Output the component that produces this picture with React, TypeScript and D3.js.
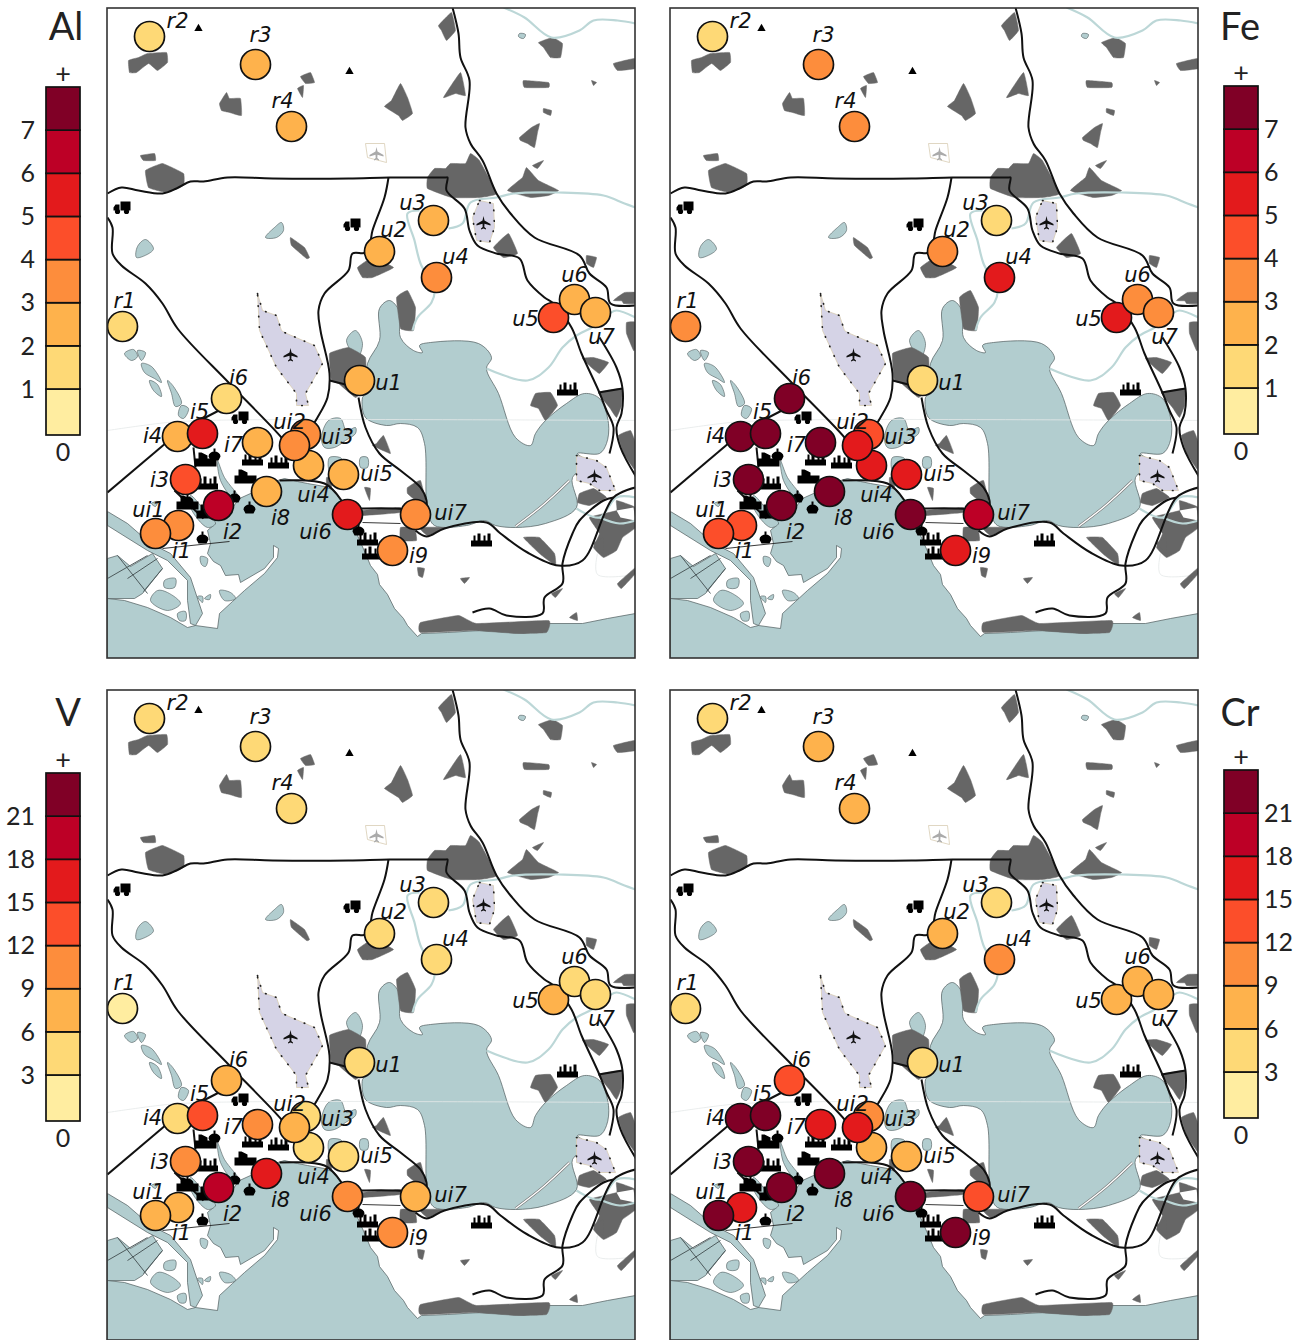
import React from "react";
import * as d3 from "d3";

type Pt = [number, number];

// sampling sites, map coordinates (km-ish units, origin top left of the map sheet)
const siteNames = ["r1","r2","r3","r4","u1","u2","u3","u4","u5","u6","u7","i1","i2","i3","i4","i5","i6","i7","i8","i9","ui1","ui3","ui4","ui2","ui5","ui6","ui7"];
const siteX = [15,42,148,184,252,272,326,329,446,467,488,71,111,78,70,95,119,150,159,285,48,198,201,187,236,240,308];
const siteY = [318,28,56,118,372,243,212,269,309,291,304,517,497,471,428,425,390,434,483,542,525,426,457,437,466,506,506];

const alValues = [1.6,1.5,2.5,2.4,2.5,2.6,2.4,3.4,4.5,2.5,2.6,3.3,6.5,4.4,2.6,5.4,1.5,2.6,2.5,3.2,3.4,3.3,2.7,3.4,2.6,5.5,3.3];
const feValues = [3.3,1.6,3.2,3.4,1.5,3.3,1.6,5.4,5.6,3.3,3.2,4.4,7.6,7.5,7.8,7.4,7.9,7.7,7.3,5.5,4.5,4.3,5.2,5.3,5.4,7.2,6.4];
const vValues = [2.1,4.5,4.2,4.4,4.6,4.3,4.7,4.4,7.5,4.5,4.6,7.2,19.5,10.4,4.8,13.6,7.4,10.2,16.5,10.6,7.5,4.4,4.6,7.8,4.2,10.5,7.3];
const crValues = [4.5,4.2,7.4,7.6,4.4,7.5,4.3,10.6,7.2,7.4,7.7,16.2,23,24,25,26,13.5,16.4,22.5,22,22.8,10.2,7.8,16.5,7.5,23.5,13.4];

const colorClasses = ["#ffeda0","#fed976","#feb24c","#fd8d3c","#fc4e2a","#e31a1c","#bd0026","#800026"];
const alTicks = [1,2,3,4,5,6,7];
const feTicks = [1,2,3,4,5,6,7];
const vTicks = [3,6,9,12,15,18,21];
const crTicks = [3,6,9,12,15,18,21];

// base map
const ocean: Pt[] = [[0,650],[0,590],[17,592],[40,599],[63,609],[80,619],[88,617],[110,620],[112,605],[125,593],[137,582],[157,565],[170,549],[171,540],[166,537],[166,549],[157,560],[133,574],[131,566],[118,567],[113,557],[106,553],[100,545],[103,535],[100,522],[108,515],[98,510],[110,503],[125,499],[132,490],[143,485],[150,478],[177,470],[190,473],[200,475],[217,478],[227,482],[233,492],[240,507],[250,527],[258,545],[263,557],[270,566],[272,576],[280,586],[287,600],[296,610],[300,617],[310,628],[314,625],[340,624],[372,622],[417,625],[441,615],[475,615],[500,610],[528,605],[528,650]];
const lagoon: Pt[] = [[258,409],[255,389],[258,385],[260,355],[272,332],[272,300],[282,292],[292,303],[293,329],[306,342],[315,344],[312,337],[323,334],[371,335],[384,349],[379,360],[391,385],[408,429],[423,437],[428,425],[438,412],[459,395],[477,385],[492,390],[501,415],[499,435],[492,445],[470,445],[482,455],[465,469],[469,499],[438,515],[408,519],[388,517],[377,512],[359,517],[327,517],[320,502],[317,435],[310,419],[293,415],[279,417]];
const estuary: Pt[] = [[0,503],[20,515],[43,535],[63,545],[83,569],[95,605],[88,617],[83,615],[80,592],[80,572],[60,552],[40,542],[0,517]];
const saltPans: Pt[] = [[0,550],[10,547],[23,558],[45,545],[55,560],[35,585],[27,590],[0,590]];
const ponds: Pt[][] = [
  [[158,229],[167,219],[174,214],[176,222],[169,229]],
  [[29,249],[30,238],[38,231],[46,240],[43,244]],
  [[214,429],[221,412],[233,410],[239,422],[248,419],[248,425],[238,432],[227,439],[217,439]],
  [[239,332],[248,322],[255,335],[250,349]],
  [[253,449],[260,449],[260,459],[253,459]],
  [[222,449],[234,450],[222,462]],
  [[17,345],[26,341],[30,348],[24,352]],
  [[30,342],[38,344],[34,352]],
  [[34,355],[44,358],[54,374],[47,370],[37,364]],
  [[42,372],[50,376],[54,388],[46,382]],
  [[60,372],[66,378],[74,395],[68,398],[64,385]],
  [[74,397],[81,400],[76,410],[71,407]],
  [[110,452],[117,469],[132,490],[125,489],[113,472]],
  [[83,487],[97,502],[108,515],[100,519],[83,499]],
  [[112,582],[123,584],[128,590],[117,592]],
  [[50,582],[60,584],[73,595],[60,602],[43,592]],
  [[57,572],[68,570],[67,579],[57,579]],
  [[93,548],[100,550],[98,558],[94,556]],
  [[70,605],[78,603],[78,612],[72,612]],
  [[90,588],[95,588],[95,594]],
  [[97,590],[103,586],[102,591]],
  [[412,25],[418,26],[416,30],[411,28]],
  [[44,495],[50,493],[48,498]],
];
const cities: Pt[][] = [
  [[21,52],[31,49],[40,45],[59,44],[60,54],[50,62],[41,55],[29,64],[22,64]],
  [[112,95],[119,84],[122,90],[133,90],[134,107],[122,104],[114,102]],
  [[193,68],[203,64],[207,74],[198,75]],
  [[190,80],[196,77],[195,89]],
  [[293,75],[300,89],[305,105],[295,112],[291,107],[277,98],[284,92]],
  [[331,17],[344,4],[348,22],[339,32],[334,22]],
  [[336,89],[353,64],[358,87],[348,85]],
  [[320,169],[327,160],[338,160],[343,155],[358,155],[363,145],[372,152],[389,185],[372,189],[344,189],[320,180]],
  [[400,182],[415,169],[419,159],[431,172],[451,182],[441,187],[423,189]],
  [[425,157],[436,152],[430,160]],
  [[431,34],[445,29],[455,35],[453,49],[443,49],[436,39]],
  [[506,55],[527,50],[528,60],[510,62]],
  [[416,72],[441,74],[441,79],[417,79]],
  [[484,72],[489,74],[486,77]],
  [[436,100],[444,102],[443,107],[436,104]],
  [[412,129],[424,119],[432,115],[430,124],[427,139],[420,135],[413,132]],
  [[38,162],[55,155],[76,165],[76,177],[59,184],[41,179]],
  [[33,147],[47,145],[48,152],[36,152]],
  [[183,229],[197,239],[202,249],[199,250],[184,237]],
  [[250,259],[265,249],[286,259],[265,269],[255,269]],
  [[386,239],[401,225],[410,245],[396,249]],
  [[479,247],[489,249],[486,259],[479,255]],
  [[506,292],[517,284],[528,284],[528,292]],
  [[289,289],[300,282],[308,299],[306,322],[293,320]],
  [[222,345],[241,339],[258,349],[258,379],[248,389],[231,375],[224,372]],
  [[269,435],[276,427],[283,445],[265,437]],
  [[300,479],[313,472],[320,502],[308,492],[300,485]],
  [[293,519],[307,519],[309,532],[293,532]],
  [[312,519],[338,519],[320,527]],
  [[423,397],[428,385],[443,384],[450,397],[438,412],[431,400]],
  [[475,350],[486,349],[501,354],[492,365],[484,359]],
  [[491,384],[514,380],[514,397],[509,409],[502,399]],
  [[511,427],[523,422],[528,435],[528,462],[516,445]],
  [[513,287],[526,284],[528,285],[528,295],[516,295]],
  [[519,314],[528,314],[528,340],[526,342],[519,325]],
  [[472,485],[486,480],[499,489],[482,497],[470,494]],
  [[482,509],[509,502],[509,492],[528,499],[528,519],[515,529],[509,542],[496,549],[486,539],[492,525]],
  [[416,529],[432,529],[447,545],[448,557],[432,545]],
  [[313,614],[351,607],[369,615],[441,612],[439,624],[410,625],[365,622],[313,624]],
  [[310,559],[317,560],[315,569],[311,567]],
  [[353,570],[362,569],[357,575]],
  [[444,585],[455,580],[448,589]],
  [[462,609],[469,604],[470,612]],
  [[510,575],[528,559],[528,565],[514,580]],
  [[486,535],[496,529],[496,545]],
  [[219,469],[224,469],[224,479],[219,477]],
  [[257,479],[263,480],[262,492]],
  [[255,502],[293,499],[293,504],[255,507]],
];
const cityHoles: Pt[][] = [[[509,502],[526,499],[528,512],[513,509]]];
const rivers: Pt[][] = [
  [[396,-1],[417,9],[444,29],[472,22],[486,12],[510,12],[528,15]],
  [[341,220],[355,215],[363,194],[389,189],[406,185],[451,184],[496,187],[517,195],[528,199]],
  [[312,202],[300,205],[307,232],[313,255],[327,282],[324,294],[310,309],[305,322]],
  [[379,360],[420,372],[441,359],[455,339],[469,327],[486,318],[502,305],[509,302],[528,309]],
  [[469,500],[492,509],[509,489],[528,489]],
  [[492,509],[512,515],[528,512]],
];
const roads: Pt[][] = [
  [[0,185],[14,179],[31,182],[55,185],[69,180],[83,173],[96,173],[120,169],[165,170],[241,170],[282,169],[338,169],[340,169],[339,182],[357,200],[362,222],[370,237],[389,245],[412,250],[420,272],[437,289],[446,295],[464,319],[474,345],[491,382],[499,402],[506,419],[502,445]],
  [[345,-1],[351,25],[353,49],[362,72],[358,119],[363,135],[375,152],[389,185],[403,205],[427,229],[472,247],[482,265],[499,279],[503,295],[528,297]],
  [[281,169],[277,189],[265,222],[263,232],[258,244],[245,245],[241,262],[217,285],[211,302],[213,322],[222,365],[220,389],[210,409],[205,417]],
  [[0,209],[5,219],[5,245],[14,257],[38,275],[55,295],[70,320],[122,375],[174,429],[182,440]],
  [[59,434],[0,484]],
  [[96,410],[121,397]],
  [[86,439],[88,459]],
  [[67,482],[96,510]],
  [[172,472],[217,475],[234,492],[240,505]],
  [[251,500],[288,500],[308,502]],
  [[222,372],[250,379]],
  [[251,389],[258,419],[272,445],[293,462],[313,479],[319,492],[318,510]],
  [[308,522],[319,528],[337,520],[379,514],[393,525],[420,544],[451,557],[475,552],[506,489],[528,479]],
  [[492,329],[509,359],[515,380],[514,405],[509,419],[513,439],[529,469]],
  [[491,384],[515,380]],
  [[506,489],[496,492],[472,512],[465,525],[455,555],[455,575],[437,589],[435,605],[399,607],[382,600],[365,604]],
];
const thinRoads: Pt[][] = [
  [[55,540],[122,533]],
  [[255,514],[293,515]],
];
const saltLines: Pt[][] = [
  [[0,570],[40,547]],
  [[10,547],[40,585]],
  [[20,570],[50,550]],
  [[36,583],[55,560]],
];
const faintLines: Pt[][] = [
  [[0,422],[60,414],[100,412],[190,411],[540,412]],
  [[490,545],[490,566],[528,566]],
];
const mainAirport: Pt[] = [[150,285],[155,302],[169,307],[174,322],[177,324],[207,337],[215,355],[198,385],[201,397],[189,397],[189,385],[169,359],[152,322]];
const northAirport: Pt[] = [[372,192],[386,195],[387,219],[382,234],[369,232],[365,209]];
const lagoonAirport: Pt[] = [[469,447],[489,452],[499,459],[508,482],[492,482],[482,475],[469,472]];
const closedAirport: Pt[] = [[258,135],[277,135],[279,154],[260,149]];
const causeway: Pt[] = [[408,518],[435,497],[462,472]];
const trucks: Pt[] = [[15,199],[245,216],[133,409]];
const factories: Pt[] = [[460,380],[374,531],[171,453],[260,530],[265,544],[100,474],[145,450]];
const plants: Pt[] = [[98,452],[138,469],[80,495],[100,504]];
const tanks: Pt[] = [[107,447],[127,489],[142,500],[95,530],[251,522],[80,492]];
const summits: Pt[] = [[91,20],[242,63]];
const activePlanes: Pt[] = [[183,346],[376,214],[487,467]];
const greyPlanes: Pt[] = [[269,145]];

// label placement relative to each site, same order as siteNames
const labelDx = [2,28,5,-9,29,14,-21,19,-28,0,6,3,14,-26,-25,-3,12,-24,14,26,-7,32,5,-5,33,-32,35];
const labelDy = [-26,-16,-30,-26,2,-22,-18,-21,1,-25,24,25,26,0,-1,-22,-21,2,26,5,-24,2,29,-24,-1,17,-2];

const PANEL_W = 528;
const PANEL_H = 650;
const xMap = d3.scaleLinear().domain([-0.5, 527.5]).range([0, PANEL_W]);
const yMap = d3.scaleLinear().domain([-0.5, 649.5]).range([0, PANEL_H]);

const area = d3.line<Pt>().x((d) => xMap(d[0])).y((d) => yMap(d[1])).curve(d3.curveLinearClosed);
const softArea = d3.line<Pt>().x((d) => xMap(d[0])).y((d) => yMap(d[1])).curve(d3.curveCatmullRomClosed.alpha(0.5));
const cityArea = d3.line<Pt>().x((d) => xMap(d[0])).y((d) => yMap(d[1])).curve(d3.curveCardinalClosed.tension(0.7));
const track = d3.line<Pt>().x((d) => xMap(d[0])).y((d) => yMap(d[1])).curve(d3.curveCatmullRom.alpha(0.5));

const WATER = "#b2cdcf";
const CITY = "#666666";
const AIRPORT = "#d5d3e6";
const RIVER = "#bcd7d7";

const PLANE = "M0,-6.5 L1,-2 L7,1.5 L7,3 L1,1.2 L0.8,4.5 L2.5,6 L2.5,7 L0,6 L-2.5,7 L-2.5,6 L-0.8,4.5 L-1,1.2 L-7,3 L-7,1.5 L-1,-2 Z";
const TRUCK = "M-9,0 L-7,-3 H-3 V3 H-9 Z M-2,-6 H8 V3 H-2 Z";
const FACTORY = "M-10.5,1 V7 H10.5 V1 H9 V-6 H6 V1 H4 V-4 H2 V1 H-1 V-6 H-4 V1 H-6 V-4 H-8 V1 Z";
const PLANT = "M-11,6 V-2 H-7 V-8 H-4 L2,-5 V-2 H11 V6 Z";
const TANK = "M-6,1 A6,5 0 0 1 6,1 L4,5 H-4 Z M-1,-7 H1 V-3 H-1 Z";

const Icons = ({ at, d, fill = "#000" }: { at: Pt[]; d: string; fill?: string }) => (
  <>
    {at.map((p, i) => (
      <path key={i} transform={`translate(${xMap(p[0])},${yMap(p[1])})`} d={d} fill={fill} />
    ))}
  </>
);

const BaseMap = () => (
  <g>
    <path d={area(ocean)!} fill={WATER} stroke="#4d5a5c" strokeWidth={0.7} />
    <path d={softArea(lagoon)!} fill={WATER} stroke="#4d5a5c" strokeWidth={0.7} />
    <path d={area(estuary)!} fill={WATER} stroke="#4d5a5c" strokeWidth={0.7} />
    <path d={area(saltPans)!} fill={WATER} stroke="#4d5a5c" strokeWidth={0.7} />
    {ponds.map((p, i) => (
      <path key={i} d={softArea(p)!} fill={WATER} stroke="#4d5a5c" strokeWidth={0.6} />
    ))}
    {saltLines.map((p, i) => (
      <path key={i} d={track(p)!} fill="none" stroke="#4d5a5c" strokeWidth={1} />
    ))}
    {faintLines.map((p, i) => (
      <path key={i} d={track(p)!} fill="none" stroke="#e4e8e8" strokeWidth={0.8} />
    ))}
    {cities.map((p, i) => (
      <path key={i} d={cityArea(p)!} fill={CITY} stroke={CITY} strokeWidth={0.5} />
    ))}
    {cityHoles.map((p, i) => (
      <path key={i} d={area(p)!} fill="#fff" />
    ))}
    {rivers.map((p, i) => (
      <path key={i} d={track(p)!} fill="none" stroke={RIVER} strokeWidth={2.2} />
    ))}
    <path d={track(causeway)!} fill="none" stroke="#777" strokeWidth={2.6} />
    <path d={track(causeway)!} fill="none" stroke="#fff" strokeWidth={1.4} />
    {[mainAirport, northAirport, lagoonAirport].map((p, i) => (
      <g key={i}>
        <path d={area(p)!} fill={AIRPORT} stroke="#d8cdb4" strokeWidth={0.8} />
        <path d={area(p)!} fill="none" stroke="#222" strokeWidth={1.7} strokeDasharray="0.5 10" strokeLinecap="round" />
      </g>
    ))}
    <path d={area(closedAirport)!} fill="#fff" stroke="#d8cdb4" strokeWidth={0.8} />
    {roads.map((p, i) => (
      <path key={i} d={track(p)!} fill="none" stroke="#111" strokeWidth={2} />
    ))}
    {thinRoads.map((p, i) => (
      <path key={i} d={track(p)!} fill="none" stroke="#222" strokeWidth={0.9} />
    ))}
    <Icons at={factories} d={FACTORY} />
    <Icons at={plants} d={PLANT} />
    <Icons at={tanks} d={TANK} />
    {trucks.map((p, i) => (
      <g key={i} transform={`translate(${xMap(p[0])},${yMap(p[1])})`}>
        <path d={TRUCK} fill="#000" />
        <circle cx={-5} cy={4} r={2.6} fill="#000" />
        <circle cx={4} cy={4} r={2.6} fill="#000" />
      </g>
    ))}
    {summits.map((p, i) => (
      <path key={i} d={d3.symbol(d3.symbolTriangle, 30)()!} transform={`translate(${xMap(p[0])},${yMap(p[1])})`} fill="#000" />
    ))}
    <Icons at={activePlanes} d={PLANE} fill="#111" />
    <Icons at={greyPlanes} d={PLANE} fill="#aaa" />
  </g>
);

const Panel = ({ id, left, top, values, ticks }: { id: string; left: number; top: number; values: number[]; ticks: number[] }) => {
  const color = d3.scaleThreshold<number, string>().domain(ticks).range(colorClasses);
  return (
    <g transform={`translate(${left},${top})`}>
      <clipPath id={`clip-${id}`}>
        <rect width={PANEL_W} height={PANEL_H} />
      </clipPath>
      <g clipPath={`url(#clip-${id})`}>
        <rect width={PANEL_W} height={PANEL_H} fill="#fff" />
        <BaseMap />
        {siteNames.map((s, i) => (
          <circle key={s} cx={xMap(siteX[i])} cy={yMap(siteY[i])} r={15} fill={color(values[i])} stroke="#111" strokeWidth={1.7} />
        ))}
        {siteNames.map((s, i) => (
          <text
            key={s}
            x={xMap(siteX[i]) + labelDx[i]}
            y={yMap(siteY[i]) + labelDy[i]}
            dy="0.35em"
            textAnchor="middle"
            fontFamily="DejaVu Sans"
            fontStyle="italic"
            fontSize={21}
            fill="#111"
          >
            {s}
          </text>
        ))}
      </g>
      <rect width={PANEL_W} height={PANEL_H} fill="none" stroke="#333" strokeWidth={1.6} />
    </g>
  );
};

const ColorBar = ({ left, top, ticks, side, title, titleX, titleY }: { left: number; top: number; ticks: number[]; side: "left" | "right"; title: string; titleX: number; titleY: number }) => {
  const barW = 34;
  const barH = 348;
  const step = ticks[1] - ticks[0];
  // the bottom class is drawn a little taller than the others
  const upper = d3.scaleLinear().domain([step, step * 8]).range([top + barH - 46, top]);
  const y = (v: number) => (v === 0 ? top + barH : upper(v));
  const edges = [0, ...ticks, step * 8];
  return (
    <g fontFamily="Lato" fill="#222">
      <text x={titleX} y={titleY} textAnchor="middle" fontSize={38}>{title}</text>
      <text x={left + barW / 2} y={top - 4} textAnchor="middle" fontSize={27}>+</text>
      {colorClasses.map((c, i) => (
        <rect key={c} x={left} y={y(edges[i + 1])} width={barW} height={y(edges[i]) - y(edges[i + 1])} fill={c} stroke="#111" strokeWidth={1.7} />
      ))}
      {ticks.map((t) => (
        <text key={t} x={side === "left" ? left - 11 : left + barW + 6} y={y(t)} dy="0.35em" textAnchor={side === "left" ? "end" : "start"} fontSize={25}>
          {t}
        </text>
      ))}
      <text x={left + barW / 2} y={top + barH + 17} dy="0.35em" textAnchor="middle" fontSize={25}>0</text>
    </g>
  );
};

export default function App() {
  return (
    <svg width={1311} height={1340} style={{ position: "absolute", left: 0, top: 0 }}>
      <Panel id="al" left={107} top={8} values={alValues} ticks={alTicks} />
      <Panel id="fe" left={670} top={8} values={feValues} ticks={feTicks} />
      <Panel id="v" left={107} top={690} values={vValues} ticks={vTicks} />
      <Panel id="cr" left={670} top={690} values={crValues} ticks={crTicks} />
      <ColorBar left={46} top={87} ticks={alTicks} side="left" title="Al" titleX={66} titleY={40} />
      <ColorBar left={1224} top={86} ticks={feTicks} side="right" title="Fe" titleX={1240} titleY={40} />
      <ColorBar left={46} top={773} ticks={vTicks} side="left" title="V" titleX={68} titleY={726} />
      <ColorBar left={1224} top={770} ticks={crTicks} side="right" title="Cr" titleX={1240} titleY={726} />
    </svg>
  );
}
